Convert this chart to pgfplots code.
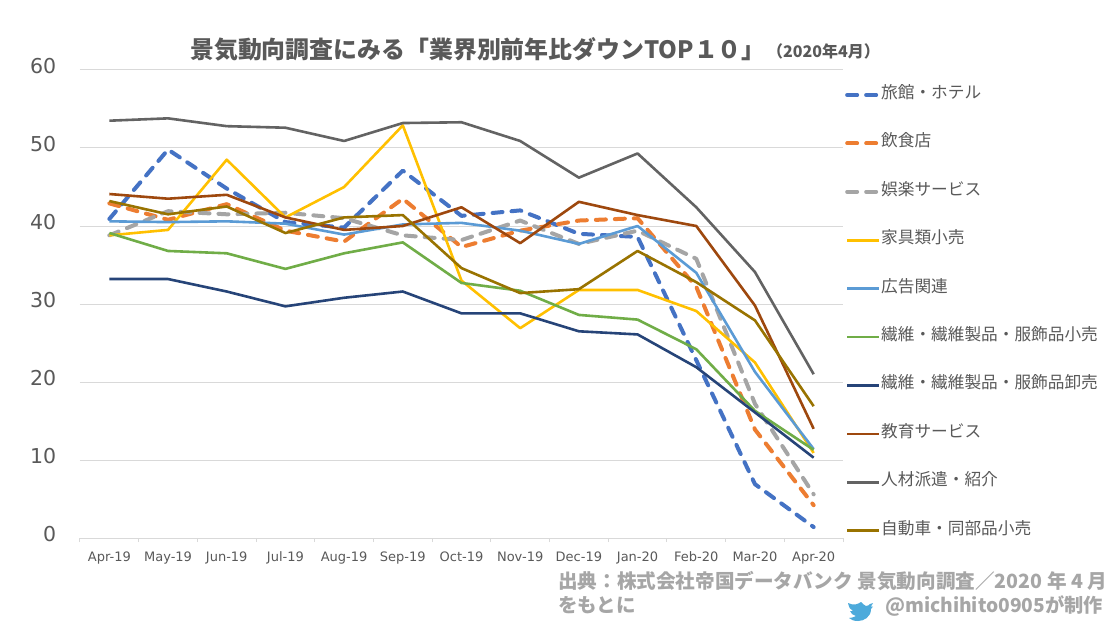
\documentclass[border=0pt]{standalone}
\usepackage{pgfplots}
\pgfplotsset{compat=1.18}
\usepackage{fontspec}
\setmainfont{Noto Sans CJK JP}
\newfontfamily\vd{DejaVu Sans}
\definecolor{c1}{HTML}{4472C4}
\definecolor{c2}{HTML}{ED7D31}
\definecolor{c3}{HTML}{A5A5A5}
\definecolor{c4}{HTML}{FFC000}
\definecolor{c5}{HTML}{5B9BD5}
\definecolor{c6}{HTML}{70AD47}
\definecolor{c7}{HTML}{264478}
\definecolor{c8}{HTML}{9E480E}
\definecolor{c9}{HTML}{636363}
\definecolor{c10}{HTML}{997300}
\definecolor{gridc}{HTML}{D9D9D9}
\definecolor{tickc}{HTML}{595959}
\definecolor{foot}{HTML}{A6A6A6}
\begin{document}
\begin{tikzpicture}[x=1pt,y=1pt]
\path[use as bounding box,fill=white] (0,0) rectangle (1119,625);
\begin{axis}[
  at={(80pt,87pt)},anchor=south west,scale only axis,width=763pt,height=468pt,
  xmin=-0.5,xmax=12.5,ymin=0,ymax=60,
  axis line style={draw=none},
  axis x line*=bottom,axis y line*=left,
  xtick={0,...,12},
  xticklabels={Apr-19,May-19,Jun-19,Jul-19,Aug-19,Sep-19,Oct-19,Nov-19,Dec-19,Jan-20,Feb-20,Mar-20,Apr-20},
  major x tick style={draw=none},
  minor xtick={-0.5,0.5,...,12.5},
  minor x tick style={draw=gridc,line width=1pt},
  minor tick length=4pt,
  tick align=outside,
  ytick={0,10,...,60},
  ymajorgrids,grid style={draw=gridc,line width=1pt},
  major y tick style={draw=none},
  /pgf/number format/assume math mode=true,
  xticklabel style={font=\vd\fontsize{13}{14}\selectfont,text=tickc,yshift=-6pt},
  yticklabel style={font=\vd\fontsize{20.5}{24}\selectfont,text=tickc,xshift=-16pt,yshift=4pt},
  legend cell align=left,
  legend style={at={(1.0026,0.9673)},anchor=north west,draw=none,fill=none,inner sep=0pt,
    /tikz/every even column/.style={column sep=3pt},
    /tikz/column 2/.style={column sep=3pt},
    row sep=29.4pt,
    nodes={inner sep=0pt,font=\fontsize{16.67}{19}\selectfont,text=tickc,text height=13pt,text depth=6pt,anchor=west}},
  legend image code/.code={\draw[#1] (0,0)--(32pt,0);},
  every axis plot/.append style={line width=2.6pt,line join=round},
]
\addplot[c1,line width=4pt,line cap=round,dash pattern=on 10pt off 9pt] coordinates {(0,40.9)(1,49.8)(2,44.8)(3,40.5)(4,39.8)(5,47.1)(6,41.3)(7,42.0)(8,39.0)(9,38.6)(10,22.8)(11,6.9)(12,1.4)};
\addlegendentry{旅館・ホテル}
\addplot[c2,line width=4pt,line cap=round,dash pattern=on 10pt off 9pt] coordinates {(0,42.9)(1,40.8)(2,42.8)(3,39.4)(4,38.0)(5,43.5)(6,37.3)(7,39.4)(8,40.7)(9,41.0)(10,32.2)(11,13.9)(12,4.2)};
\addlegendentry{飲食店}
\addplot[c3,line width=4pt,line cap=round,dash pattern=on 10pt off 9pt] coordinates {(0,38.8)(1,41.9)(2,41.5)(3,41.7)(4,41.0)(5,38.8)(6,38.2)(7,40.7)(8,37.7)(9,39.4)(10,35.8)(11,17.2)(12,5.6)};
\addlegendentry{娯楽サービス}
\addplot[c4] coordinates {(0,38.8)(1,39.5)(2,48.5)(3,41.1)(4,45.0)(5,52.9)(6,33.0)(7,26.9)(8,31.8)(9,31.8)(10,29.1)(11,22.5)(12,10.9)};
\addlegendentry{家具類小売}
\addplot[c5] coordinates {(0,40.6)(1,40.5)(2,40.6)(3,40.3)(4,38.9)(5,40.2)(6,40.4)(7,39.4)(8,37.7)(9,40.0)(10,34.0)(11,21.3)(12,11.4)};
\addlegendentry{広告関連}
\addplot[c6] coordinates {(0,39.1)(1,36.8)(2,36.5)(3,34.5)(4,36.5)(5,37.9)(6,32.7)(7,31.7)(8,28.6)(9,28.0)(10,24.2)(11,16.3)(12,11.3)};
\addlegendentry{繊維・繊維製品・服飾品小売}
\addplot[c7] coordinates {(0,33.2)(1,33.2)(2,31.6)(3,29.7)(4,30.8)(5,31.6)(6,28.8)(7,28.8)(8,26.5)(9,26.1)(10,21.9)(11,16.1)(12,10.3)};
\addlegendentry{繊維・繊維製品・服飾品卸売}
\addplot[c8] coordinates {(0,44.1)(1,43.5)(2,44.0)(3,41.1)(4,39.5)(5,40.0)(6,42.4)(7,37.8)(8,43.1)(9,41.4)(10,40.0)(11,29.8)(12,14.0)};
\addlegendentry{教育サービス}
\addplot[c9] coordinates {(0,53.5)(1,53.8)(2,52.8)(3,52.6)(4,50.9)(5,53.2)(6,53.3)(7,50.9)(8,46.2)(9,49.3)(10,42.4)(11,34.1)(12,21.0)};
\addlegendentry{人材派遣・紹介}
\addplot[c10] coordinates {(0,43.2)(1,41.5)(2,42.5)(3,39.1)(4,41.1)(5,41.4)(6,34.6)(7,31.4)(8,31.9)(9,36.8)(10,32.8)(11,27.9)(12,16.9)};
\addlegendentry{自動車・同部品小売}
\end{axis}
\node[anchor=base west,inner sep=0pt,text=tickc,font=\bfseries\fontsize{23.9}{26}\selectfont] at (190,566) {景気動向調査にみる「業界別前年比ダウンTOP１０」};
\node[anchor=base west,inner sep=0pt,text=tickc,font=\bfseries\fontsize{16}{18}\selectfont] at (767,567) {（2020年4月）};
\node[anchor=base west,inner sep=0pt,text=foot,font=\bfseries\fontsize{19.6}{22}\selectfont] at (558,37) {出典：株式会社帝国データバンク 景気動向調査／2020 年 4 月};
\node[anchor=base west,inner sep=0pt,text=foot,font=\bfseries\fontsize{19.5}{22}\selectfont] at (558,13) {をもとに};
\node[anchor=base east,inner sep=0pt,text=foot,font=\bfseries\fontsize{19.2}{22}\selectfont] at (1103,13) {@michihito0905が制作};
\fill[c5!85!cyan] (848,22) .. controls (854,19) and (858,21) .. (861,23) .. controls (863,22) and (864,19) .. (866,19)
  .. controls (868,19) and (869,20) .. (870,21) -- (873,22) -- (871,18.5) -- (873,18.5) -- (871,16)
  .. controls (871,8) and (864,4) .. (858,4) .. controls (854,4) and (851,5) .. (849,7)
  .. controls (852,7) and (854,8) .. (856,9) .. controls (853,10) and (851,11) .. (850,14)
  .. controls (851,14) and (852,14) .. (853,14) .. controls (850,15) and (849,18) .. (848,22) -- cycle;
\end{tikzpicture}
\end{document}
